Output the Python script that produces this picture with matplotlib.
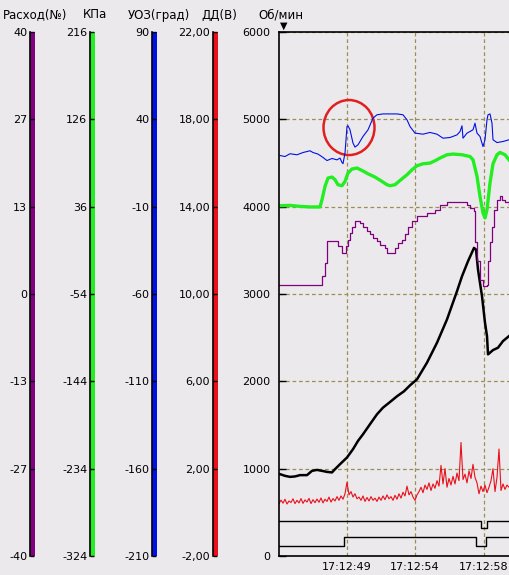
import matplotlib
import matplotlib.pyplot as plt
import numpy as np
from matplotlib.patches import Ellipse
from matplotlib.ticker import FixedLocator, FixedFormatter

matplotlib.use('Agg')

# Time axis (sample index) and tick labels
time_ticks = [68, 136, 205]
time_labels = ['17:12:49', '17:12:54', '17:12:58']

# Left scales: name, min, max, tick labels, colour
scale_names = ['Расход(№)', 'КПа', 'УОЗ(град)', 'ДД(В)']
scale_ranges = [(-40, 40), (-324, 216), (-210, 90), (-2, 22)]
scale_labels = [
    ['40', '27', '13', '0', '-13', '-27', '-40'],
    ['216', '126', '36', '-54', '-144', '-234', '-324'],
    ['90', '40', '-10', '-60', '-110', '-160', '-210'],
    ['22,00', '18,00', '14,00', '10,00', '6,00', '2,00', '-2,00'],
]
scale_colors = ['#800080', '#22EE22', '#0010E8', '#E8101C']
rpm_labels = ['6000', '5000', '4000', '3000', '2000', '1000', '0']

# УОЗ (deg)
uoz_x = [1, 6, 11, 18, 24, 31, 34, 39, 44, 48, 53, 58, 61, 63, 64, 66, 67, 68, 69, 71, 74, 76, 79, 84, 89,
         94, 98, 104, 118, 124, 128, 131, 136, 144, 151, 158, 164, 171, 178, 181, 183, 184, 188, 194, 196,
         198, 201, 204, 206, 208, 209, 211, 213, 214, 218, 224, 230]
uoz_y = [19.3, 18.7, 20.3, 19.7, 21.0, 22.0, 21.0, 20.1, 18.2, 16.4, 17.6, 16.8, 17.8, 15.3, 14.6, 20.7,
         28.3, 35.9, 36.3, 34.0, 26.4, 24.1, 25.4, 30.2, 34.0, 40.7, 42.6, 43.1, 43.1, 42.6, 39.7, 35.9,
         32.1, 31.5, 32.5, 31.5, 29.2, 29.6, 31.1, 33.0, 36.3, 29.2, 32.1, 34.0, 37.8, 32.1, 30.2, 24.4,
         28.3, 39.7, 42.6, 43.1, 37.8, 28.3, 26.7, 27.3, 28.3]

# Давление (kPa)
kpa_x = [1, 11, 21, 31, 41, 43, 46, 49, 53, 56, 59, 63, 66, 69, 73, 78, 83, 89, 96, 103, 108, 111, 116,
         121, 128, 133, 138, 144, 151, 156, 161, 168, 174, 183, 191, 194, 198, 201, 204, 206, 208, 211,
         214, 218, 221, 226, 230]
kpa_y = [37.0, 37.3, 36.3, 35.7, 35.7, 43.2, 56.9, 65.5, 66.5, 63.8, 58.6, 57.6, 62.0, 70.7, 74.8, 75.8,
         73.3, 69.9, 66.5, 62.0, 58.6, 57.6, 58.6, 63.0, 68.9, 74.0, 78.2, 80.2, 80.9, 83.3, 86.1, 89.5,
         90.2, 89.5, 87.7, 84.3, 67.2, 46.6, 29.5, 24.4, 32.9, 60.4, 80.2, 89.5, 91.9, 89.5, 84.3]

# Расход
flow_x = [0, 42, 43, 46, 48, 56, 59, 63, 65, 67, 69, 71, 73, 76, 78, 81, 84, 88, 91, 94, 98, 101, 106,
          108, 114, 116, 119, 123, 126, 129, 133, 138, 148, 156, 161, 168, 186, 188, 191, 195, 196, 198,
          201, 204, 208, 209, 211, 213, 215, 218, 221, 223, 226, 230]
flow_y = [1.3, 1.3, 2.7, 4.8, 8.1, 8.1, 7.3, 6.3, 6.2, 7.3, 8.3, 9.3, 10.3, 11.1, 11.1, 10.9, 10.3, 9.6,
          9.1, 8.6, 8.1, 7.5, 7.0, 6.2, 6.2, 7.0, 7.8, 8.3, 9.1, 10.3, 11.1, 11.9, 12.4, 12.9, 13.6, 14.1,
          14.1, 13.6, 13.1, 12.6, 8.0, 5.0, 2.2, 1.2, 1.4, 5.0, 8.0, 10.3, 12.9, 14.4, 14.9, 14.4, 14.1, 13.6]

# Обороты (rpm)
rpm_x = [1, 6, 11, 16, 21, 28, 33, 38, 43, 48, 53, 56, 61, 68, 74, 79, 84, 91, 98, 104, 111, 118, 125,
         131, 138, 148, 158, 168, 178, 183, 189, 195, 197, 199, 203, 206, 208, 209, 211, 214, 219, 224, 230]
rpm_y = [937, 918, 906, 911, 926, 926, 975, 986, 975, 963, 957, 994, 1051, 1128, 1223, 1318, 1394, 1509,
         1623, 1699, 1763, 1829, 1886, 1954, 2023, 2214, 2442, 2709, 3032, 3203, 3375, 3528, 3509, 3280,
         2975, 2671, 2518, 2309, 2328, 2358, 2385, 2461, 2518]

# ДД (V), one sample every 2 points of the time axis
dd_y = [0.40, 0.56, 0.42, 0.60, 0.38, 0.52, 0.45, 0.62, 0.40, 0.55,
        0.43, 0.63, 0.41, 0.57, 0.47, 0.64, 0.40, 0.58, 0.44, 0.61,
        0.46, 0.66, 0.43, 0.60, 0.50, 0.70, 0.47, 0.63, 0.52, 0.72,
        0.55, 0.75, 0.60, 0.85, 1.38, 0.80, 0.95, 0.70, 0.85, 0.62,
        0.70, 0.55, 0.75, 0.50, 0.68, 0.52, 0.72, 0.55, 0.65, 0.50,
        0.70, 0.55, 0.75, 0.58, 0.80, 0.62, 0.72, 0.55, 0.78, 0.60,
        0.85, 0.65, 0.92, 0.75, 1.20, 0.80, 0.95, 0.70, 0.55, 0.80,
        0.95, 1.15, 0.90, 1.25, 1.05, 1.35, 1.00, 1.30, 1.10, 1.45,
        1.20, 2.15, 1.30, 2.00, 1.15, 1.55, 1.25, 1.65, 1.30, 1.80,
        1.45, 3.20, 1.50, 1.75, 1.35, 1.90, 1.55, 2.20, 1.60, 1.35,
        0.85, 1.20, 0.95, 1.25, 0.90, 1.15, 1.45, 2.00, 0.95, 1.60,
        2.90, 1.00, 1.30, 1.05, 1.25, 1.15]
dd_x = np.arange(len(dd_y)) * 2

# Digital signals (0/1)
dig1_x = [0, 202, 208, 280]
dig1_s = [1, 0, 1, 1]
dig2_x = [0, 65, 197, 207, 280]
dig2_s = [0, 1, 0, 1, 1]

W, H = 509, 575
BG = '#ECE9EC'
fig = plt.figure(figsize=(W / 100, H / 100), dpi=100, facecolor=BG)
plt.rcParams['font.family'] = ['DejaVu Sans']
FS = 8

top_px, bot_px = 32, 556
ax_h = (bot_px - top_px) / H
ax_b = 1 - bot_px / H


def to_rpm(vals, lo, hi):
    return (np.asarray(vals) - lo) / (hi - lo) * 6000


# main chart
ax = fig.add_axes([279 / W, ax_b, (570 - 279) / W, ax_h], facecolor=BG)
ax.set_xlim(0, 291)
ax.set_ylim(0, 6000)
ax.spines['right'].set_visible(False)
for s in ['left', 'top', 'bottom']:
    ax.spines[s].set_linewidth(1.2)
ax.yaxis.set_major_locator(FixedLocator([6000, 5000, 4000, 3000, 2000, 1000, 0]))
ax.yaxis.set_major_formatter(FixedFormatter(rpm_labels))
ax.tick_params(axis='y', direction='in', length=5, width=1, pad=6, labelsize=FS)
ax.set_xticks(time_ticks)
ax.set_xticklabels(time_labels)
ax.tick_params(axis='x', length=0, pad=4, labelsize=FS)
ax.grid(True, color='#9C8F55', linestyle=(0, (3, 2.2)), linewidth=0.9)
ax.set_axisbelow(True)

# digital traces near the bottom
ax.plot(dig1_x, 317 + 86 * np.array(dig1_s), color='black', lw=1, drawstyle='steps-post')
ax.plot(dig2_x, 111 + 110 * np.array(dig2_s), color='black', lw=1, drawstyle='steps-post')

ax.plot(dd_x, to_rpm(dd_y, -2, 22), color=scale_colors[3], lw=0.8)
ax.plot(rpm_x, rpm_y, color='black', lw=1.8)
ax.plot(flow_x, to_rpm(flow_y, -40, 40), color=scale_colors[0], lw=0.9, drawstyle='steps-post')
ax.plot(kpa_x, to_rpm(kpa_y, -324, 216), color=scale_colors[1], lw=2.4)
uoz_rpm = to_rpm(uoz_y, -210, 90)
ax.plot(uoz_x, uoz_rpm, color=scale_colors[2], lw=0.8)

# red circle around the first УОЗ spike
i_peak = int(np.argmax(uoz_rpm[:25]))
ax.add_patch(Ellipse((uoz_x[i_peak] + 1, uoz_rpm[i_peak] - 20), 51, 630, fill=False,
                     edgecolor='#E02020', lw=1.8, clip_on=False))

# left colour scales
bar_px = [30, 90, 152, 213]
for k in range(4):
    lo, hi = scale_ranges[k]
    sax = fig.add_axes([bar_px[k] / W, ax_b, 4.5 / W, ax_h], facecolor=scale_colors[k])
    sax.set_ylim(lo, hi)
    sax.set_xticks([])
    for s in ['right', 'top', 'bottom']:
        sax.spines[s].set_visible(False)
    sax.spines['left'].set_linewidth(1.2)
    sax.yaxis.set_major_locator(FixedLocator(np.linspace(hi, lo, 7)))
    sax.yaxis.set_major_formatter(FixedFormatter(scale_labels[k]))
    sax.tick_params(axis='y', direction='in', length=3, width=1, pad=2, labelsize=FS)

# headers
header_px = [3, 83, 128, 201, 258]
for name, xp in zip(scale_names + ['Об/мин'], header_px):
    fig.text(xp / W, 1 - 15 / H, name, fontsize=8.5, ha='left', va='center')
fig.text(283.5 / W, 1 - 26 / H, '▼', fontsize=7, ha='center', va='center')

plt.savefig('out.png', dpi=100, facecolor=BG)
plt.close()
